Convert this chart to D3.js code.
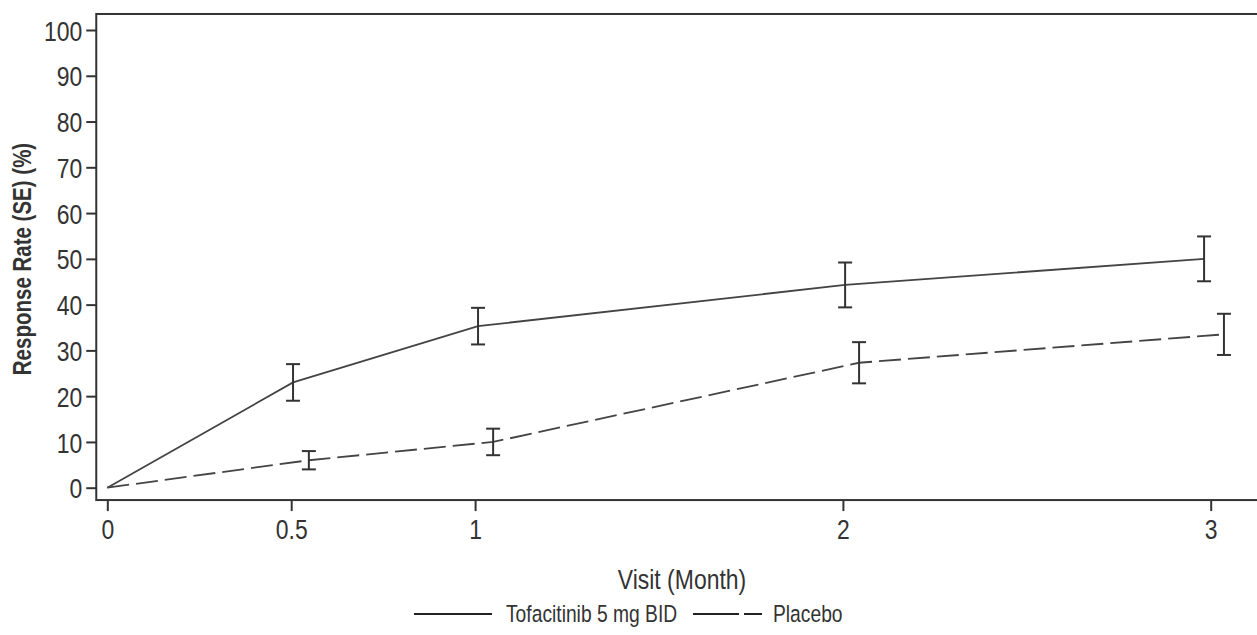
<!DOCTYPE html>
<html>
<head>
<meta charset="utf-8">
<script src="https://cdn.jsdelivr.net/npm/d3@7"></script>
<style>
  body { margin: 0; background: #fff; }
  text { font-family: "Liberation Sans", Arial, sans-serif; fill: #333; }
</style>
</head>
<body>
<div id="container"></div>
<script>
// data
const visitTicks = [0, 0.5, 1, 2, 3];
const yTicks = [0, 10, 20, 30, 40, 50, 60, 70, 80, 90, 100];

const tofaVisit = [0, 0.505, 1.008, 2.006, 2.982];
const tofaRate  = [0, 23.0, 35.3, 44.3, 50.0];
const tofaSE    = [null, 4.0, 4.0, 4.9, 4.9];

const placeboVisit = [0, 0.548, 1.049, 2.044, 3.036];
const placeboRate  = [0, 6.0, 10.0, 27.3, 33.5];
const placeboSE    = [null, 2.0, 2.9, 4.5, 4.5];

const seriesNames = ["Tofacitinib 5 mg BID", "Placebo"];

var width = 1257, height = 635;
const squeeze = 0.82; // no narrow font installed, so squeeze the regular one

const svg = d3.select("#container")
  .append("svg")
    .attr("width", width)
    .attr("height", height);

const x = d3.scaleLinear().domain([0, 3]).range([107.3, 1210.7]);
const y = d3.scaleLinear().domain([0, 100]).range([487.7, 30]);

const ink = "#333";

// frame
svg.append("rect")
  .attr("x", x(-0.03))
  .attr("y", y(103.5))
  .attr("width", width + 10 - x(-0.03))
  .attr("height", y(-2.7) - y(103.5))
  .attr("fill", "none")
  .attr("stroke", ink)
  .attr("stroke-width", 2);

// y axis
const yAxis = svg.append("g")
  .attr("transform", `translate(${x(-0.03)},0)`)
  .call(d3.axisLeft(y).tickValues(yTicks).tickSize(10).tickPadding(4));
yAxis.select(".domain").remove();
yAxis.selectAll("line").attr("stroke", ink).attr("stroke-width", 2);
yAxis.selectAll("text")
  .style("font-size", "28px")
  .attr("dy", "0.36em")
  .attr("x", -14 / squeeze)
  .attr("transform", `scale(${squeeze},1)`);

// x axis
const xAxis = svg.append("g")
  .attr("transform", `translate(0,${y(-2.7)})`)
  .call(d3.axisBottom(x).tickValues(visitTicks).tickSize(11).tickPadding(8)
    .tickFormat(d => d));
xAxis.select(".domain").remove();
xAxis.selectAll("line").attr("stroke", ink).attr("stroke-width", 2);
xAxis.selectAll("text")
  .style("font-size", "28px")
  .attr("transform", `scale(${squeeze},1)`);

// axis titles
svg.append("text")
  .attr("transform", `translate(682,589) scale(${squeeze},1)`)
  .attr("text-anchor", "middle")
  .style("font-size", "28px")
  .text("Visit (Month)");

svg.append("text")
  .attr("transform", `translate(31,259) rotate(-90) scale(${squeeze},1)`)
  .attr("text-anchor", "middle")
  .style("font-size", "25px")
  .style("font-weight", "bold")
  .text("Response Rate (SE) (%)");

// series
const series = [
  { name: seriesNames[0], vx: tofaVisit, rate: tofaRate, se: tofaSE, dash: null },
  { name: seriesNames[1], vx: placeboVisit, rate: placeboRate, se: placeboSE, dash: "22,7" }
];

const line = d3.line().x(d => x(d.vx)).y(d => y(d.rate));

series.forEach(s => {
  const pts = s.vx.map((v, i) => ({ vx: v, rate: s.rate[i], se: s.se[i] }));

  svg.append("path")
    .datum(pts)
    .attr("d", line)
    .attr("fill", "none")
    .attr("stroke", "#444")
    .attr("stroke-width", 1.8)
    .attr("stroke-dasharray", s.dash);

  // error bars
  const bars = svg.append("g")
    .selectAll("g")
    .data(pts.filter(d => d.se != null))
    .enter()
    .append("g")
    .attr("stroke", ink)
    .attr("stroke-width", 2);

  bars.append("line")
    .attr("x1", d => x(d.vx)).attr("x2", d => x(d.vx))
    .attr("y1", d => y(d.rate - d.se)).attr("y2", d => y(d.rate + d.se));
  bars.append("line")
    .attr("x1", d => x(d.vx) - 7).attr("x2", d => x(d.vx) + 7)
    .attr("y1", d => y(d.rate - d.se)).attr("y2", d => y(d.rate - d.se));
  bars.append("line")
    .attr("x1", d => x(d.vx) - 7).attr("x2", d => x(d.vx) + 7)
    .attr("y1", d => y(d.rate + d.se)).attr("y2", d => y(d.rate + d.se));
});

// legend
const legendData = [
  { label: seriesNames[0], x0: 414, len: 78, tx: 92, dash: null },
  { label: seriesNames[1], x0: 693, len: 69, tx: 80, dash: "46,5" }
];

const legend = svg.selectAll(".legend")
  .data(legendData)
  .enter()
  .append("g")
  .attr("class", "legend")
  .attr("transform", d => `translate(${d.x0},614)`);

legend.append("line")
  .attr("x1", 0).attr("x2", d => d.len)
  .attr("stroke", "#222")
  .attr("stroke-width", 1.8)
  .attr("stroke-dasharray", d => d.dash);

legend.append("text")
  .attr("transform", d => `translate(${d.tx},8) scale(${squeeze},1)`)
  .style("font-size", "23.5px")
  .text(d => d.label);
</script>
</body>
</html>
